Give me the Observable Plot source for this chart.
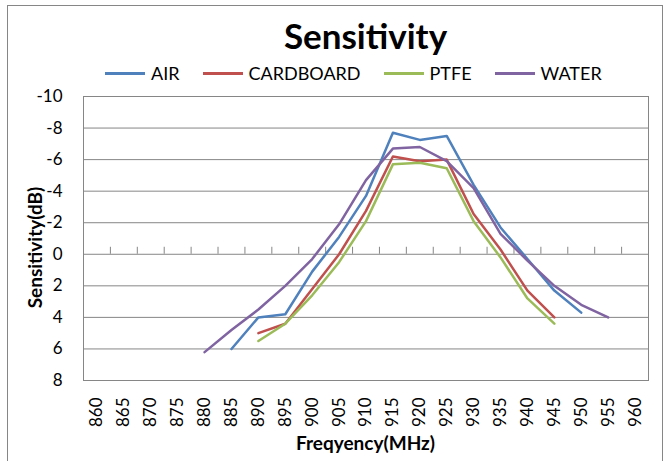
<!DOCTYPE html>
<html><head><meta charset="utf-8">
<script src="https://cdn.jsdelivr.net/npm/d3@7"></script>
<script src="https://cdn.jsdelivr.net/npm/@observablehq/plot@0.6"></script>
<style>
html,body{margin:0;padding:0;background:#fff;}
body{width:666px;height:461px;position:relative;overflow:hidden;font-family:Lato,sans-serif;color:#000;}
#border{position:absolute;left:7px;top:5px;width:656px;height:470px;border:1px solid #868686;box-sizing:border-box;}
#title{position:absolute;left:83px;width:565px;top:14px;text-align:center;font-weight:bold;font-size:35px;line-height:normal;}
#legend{position:absolute;left:105px;top:62px;display:flex;gap:23px;font-size:18px;line-height:normal;}
.item{display:flex;align-items:center;gap:6px;}
.sw{width:40px;height:3px;}
#chart{position:absolute;left:0;top:85px;}
#ytitle{position:absolute;left:-66px;top:236px;width:200px;text-align:center;font-weight:bold;font-size:19px;line-height:normal;transform:rotate(-90deg);}
#xtitle{position:absolute;left:83px;width:565px;top:431px;text-align:center;font-weight:bold;font-size:19px;line-height:normal;}
</style>
</head><body>
<div id="border"></div>
<div id="title">Sensitivity</div>
<div id="legend"></div>
<div id="chart"></div>
<div id="ytitle">Sensitivity(dB)</div>
<div id="xtitle">Freqyency(MHz)</div>
<script>
const freqTicks = [860,865,870,875,880,885,890,895,900,905,910,915,920,925,930,935,940,945,950,955,960];
const yTicks = [-10,-8,-6,-4,-2,0,2,4,6,8];
const seriesNames = ["AIR","CARDBOARD","PTFE","WATER"];
const seriesColors = ["#4F81BD","#C0504D","#9BBB59","#8064A2"];

const airFreq = [885,890,895,900,905,910,915,920,925,930,935,940,945,950];
const airValues = [6.0,4.0,3.8,1.1,-1.1,-3.7,-7.7,-7.25,-7.5,-4.4,-1.7,0.3,2.3,3.7];

const cardboardFreq = [890,895,900,905,910,915,920,925,930,935,940,945];
const cardboardValues = [5.0,4.4,2.2,0.0,-2.75,-6.2,-5.9,-6.0,-2.55,-0.3,2.3,4.0];

const ptfeFreq = [890,895,900,905,910,915,920,925,930,935,940,945];
const ptfeValues = [5.5,4.4,2.6,0.5,-2.1,-5.7,-5.8,-5.45,-2.1,0.2,2.8,4.4];

const waterFreq = [880,885,890,895,900,905,910,915,920,925,930,935,940,945,950,955];
const waterValues = [6.2,4.8,3.5,2.0,0.3,-1.9,-4.7,-6.7,-6.8,-5.9,-4.2,-1.3,0.4,2.0,3.2,4.0];

const seriesData = [
  [seriesNames[0], airFreq, airValues],
  [seriesNames[1], cardboardFreq, cardboardValues],
  [seriesNames[2], ptfeFreq, ptfeValues],
  [seriesNames[3], waterFreq, waterValues]
];
const data = seriesData.flatMap(([name, fs, vs]) => fs.map((f, i) => ({series: name, freq: f, value: vs[i]})));

const step = freqTicks[1] - freqTicks[0];
const xDomain = [freqTicks[0] - step / 2, freqTicks[freqTicks.length - 1] + step / 2];
const boundaries = freqTicks.slice(0, -1).map(f => f + step / 2);

const gridColor = "#868686";

const chart = Plot.plot({
  width: 666,
  height: 376,
  marginTop: 11,
  marginBottom: 81,
  marginLeft: 83,
  marginRight: 18,
  style: {fontFamily: "Lato, sans-serif", fontSize: "17px", color: "#000", background: "transparent", overflow: "visible"},
  x: {domain: xDomain, ticks: freqTicks, tickFormat: d => String(d), tickRotate: -90, tickSize: 0, tickPadding: 17, label: null},
  y: {domain: [yTicks[0], yTicks[yTicks.length - 1]], reverse: true, ticks: yTicks, tickFormat: d => String(d), tickSize: 0, tickPadding: 21, label: null},
  color: {domain: seriesNames, range: seriesColors},
  marks: [
    Plot.ruleY(yTicks, {stroke: gridColor, strokeWidth: 1}),
    Plot.ruleX(boundaries, {x: d => d, y1: 0, y2: 0, insetTop: -7, stroke: gridColor}),
    Plot.frame({stroke: gridColor}),
    Plot.line(data, {x: "freq", y: "value", z: "series", stroke: "series", strokeWidth: 2.5})
  ]
});
document.getElementById("chart").appendChild(chart);

const legend = document.getElementById("legend");
seriesNames.forEach((name, i) => {
  const item = document.createElement("div");
  item.className = "item";
  const sw = document.createElement("div");
  sw.className = "sw";
  sw.style.background = seriesColors[i];
  const label = document.createElement("span");
  label.textContent = name;
  item.appendChild(sw);
  item.appendChild(label);
  legend.appendChild(item);
});
</script>
</body></html>
